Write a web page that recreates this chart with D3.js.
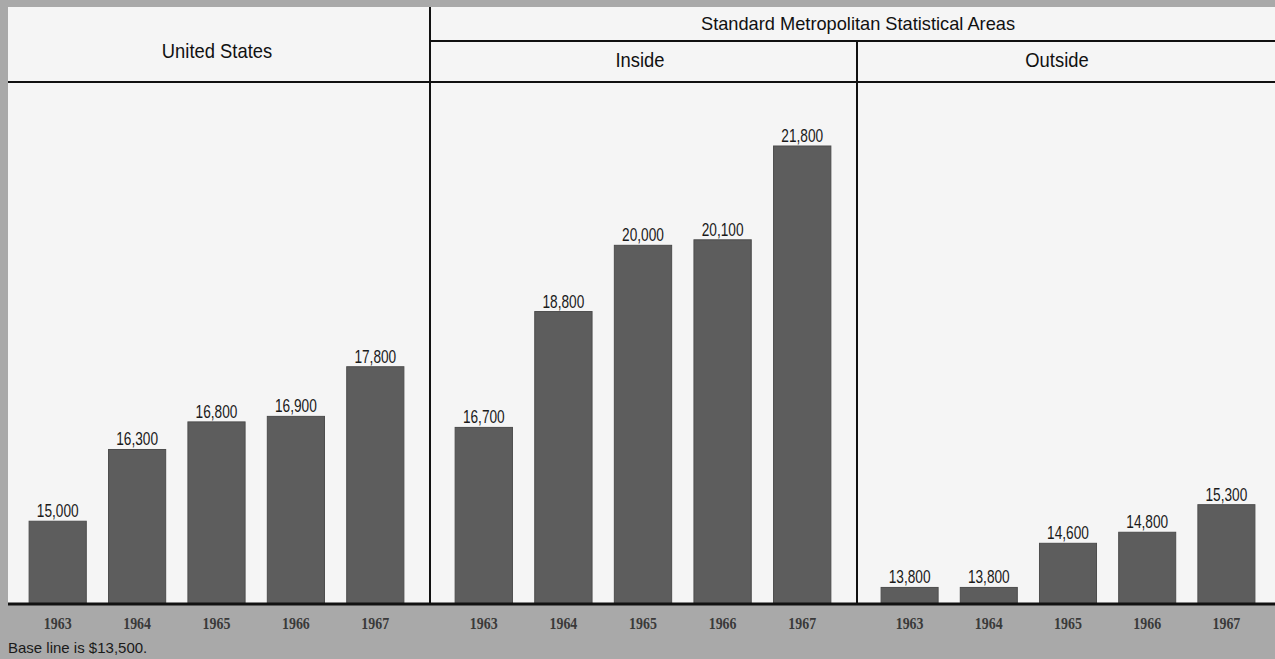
<!DOCTYPE html>
<html>
<head>
<meta charset="utf-8">
<script src="https://cdn.jsdelivr.net/npm/d3@7"></script>
<style>
  html, body { margin: 0; padding: 0; background: #a9a9a9; }
  svg { display: block; }
</style>
</head>
<body>
<svg id="chart" width="1275" height="659"></svg>
<script>
// ---- data ----
const years = ["1963", "1964", "1965", "1966", "1967"];
const panelNames = ["United States", "Inside", "Outside"];
const groupTitle = "Standard Metropolitan Statistical Areas";
const usValues = [15000, 16300, 16800, 16900, 17800];
const insideValues = [16700, 18800, 20000, 20100, 21800];
const outsideValues = [13800, 13800, 14600, 14800, 15300];
const baseValue = 13500;
const topValue = 21800;
const footnote = "Base line is $13,500.";

// ---- layout ----
const W = 1275, H = 659;
const svg = d3.select("#chart");
const plotLeft = 8, plotTop = 7, baseY = 604;
const div1 = 430, div2 = 857;
const headLine1 = 41, headLine2 = 82;

const sansFont = "'Liberation Sans', Arial, sans-serif";
const serifFont = "'Liberation Serif', 'DejaVu Serif', serif";

// plot background
svg.append("rect").attr("x", plotLeft).attr("y", plotTop)
  .attr("width", W - plotLeft).attr("height", baseY - plotTop)
  .attr("fill", "#f5f5f5");

const y = d3.scaleLinear().domain([baseValue, topValue]).range([baseY, 146]);

const panels = [
  { name: panelNames[0], values: usValues, range: [18, 415], headY: 58, center: 217 },
  { name: panelNames[1], values: insideValues, range: [444, 842], headY: 67, center: 640 },
  { name: panelNames[2], values: outsideValues, range: [870, 1266], headY: 67, center: 1057 }
];

const fmt = d3.format(",");

function scaledText(x0, y0, txt, size, sx, family, fill) {
  return svg.append("text")
    .attr("transform", `translate(${x0},${y0}) scale(${sx},1)`)
    .attr("text-anchor", "middle")
    .attr("font-family", family).attr("font-size", size)
    .attr("fill", fill)
    .text(txt);
}

panels.forEach(p => {
  const x = d3.scaleBand().domain(years).range(p.range).paddingInner(0.28).paddingOuter(0.14);
  const g = svg.append("g");
  const data = years.map((yr, i) => ({ year: yr, value: p.values[i] }));

  g.selectAll("rect.bar").data(data).enter().append("rect")
    .attr("class", "bar")
    .attr("x", d => x(d.year))
    .attr("y", d => y(d.value))
    .attr("width", x.bandwidth())
    .attr("height", d => baseY - y(d.value))
    .attr("fill", "#5d5d5d")
    .attr("stroke", "#4d4d4d").attr("stroke-width", 1);

  g.selectAll("text.val").data(data).enter().append("text")
    .attr("class", "val")
    .attr("transform", d => `translate(${x(d.year) + x.bandwidth() / 2},${y(d.value) - 4}) scale(0.76,1)`)
    .attr("text-anchor", "middle")
    .attr("font-family", sansFont).attr("font-size", 18)
    .attr("fill", "#1a1a1a")
    .text(d => fmt(d.value));

  // year axis
  const axis = d3.axisBottom(x).tickSize(0).tickPadding(0);
  const ag = svg.append("g").attr("transform", `translate(0,${baseY + 25})`).call(axis);
  ag.select(".domain").remove();
  ag.selectAll("text")
    .attr("font-family", serifFont).attr("font-size", 17).attr("font-weight", "bold")
    .attr("fill", "#3a3a3a").attr("dy", 0)
    .attr("transform", "scale(0.82,1)");

  scaledText(p.center, p.headY, p.name, 20, 0.92, sansFont, "#111");
});

scaledText(858, 30, groupTitle, 19, 0.96, sansFont, "#111");

// rules
const line = (x1, y1, x2, y2, w) => svg.append("line")
  .attr("x1", x1).attr("y1", y1).attr("x2", x2).attr("y2", y2)
  .attr("stroke", "#111").attr("stroke-width", w);
line(div1, plotTop, div1, baseY, 2);
line(div2, headLine1, div2, baseY, 2);
line(div1, headLine1, W, headLine1, 2);
line(plotLeft, headLine2, W, headLine2, 2);
line(plotLeft, baseY, W, baseY, 3);

svg.append("text")
  .attr("x", 8).attr("y", 653)
  .attr("font-family", sansFont).attr("font-size", 15)
  .attr("fill", "#1a1a1a")
  .text(footnote);
</script>
</body>
</html>
